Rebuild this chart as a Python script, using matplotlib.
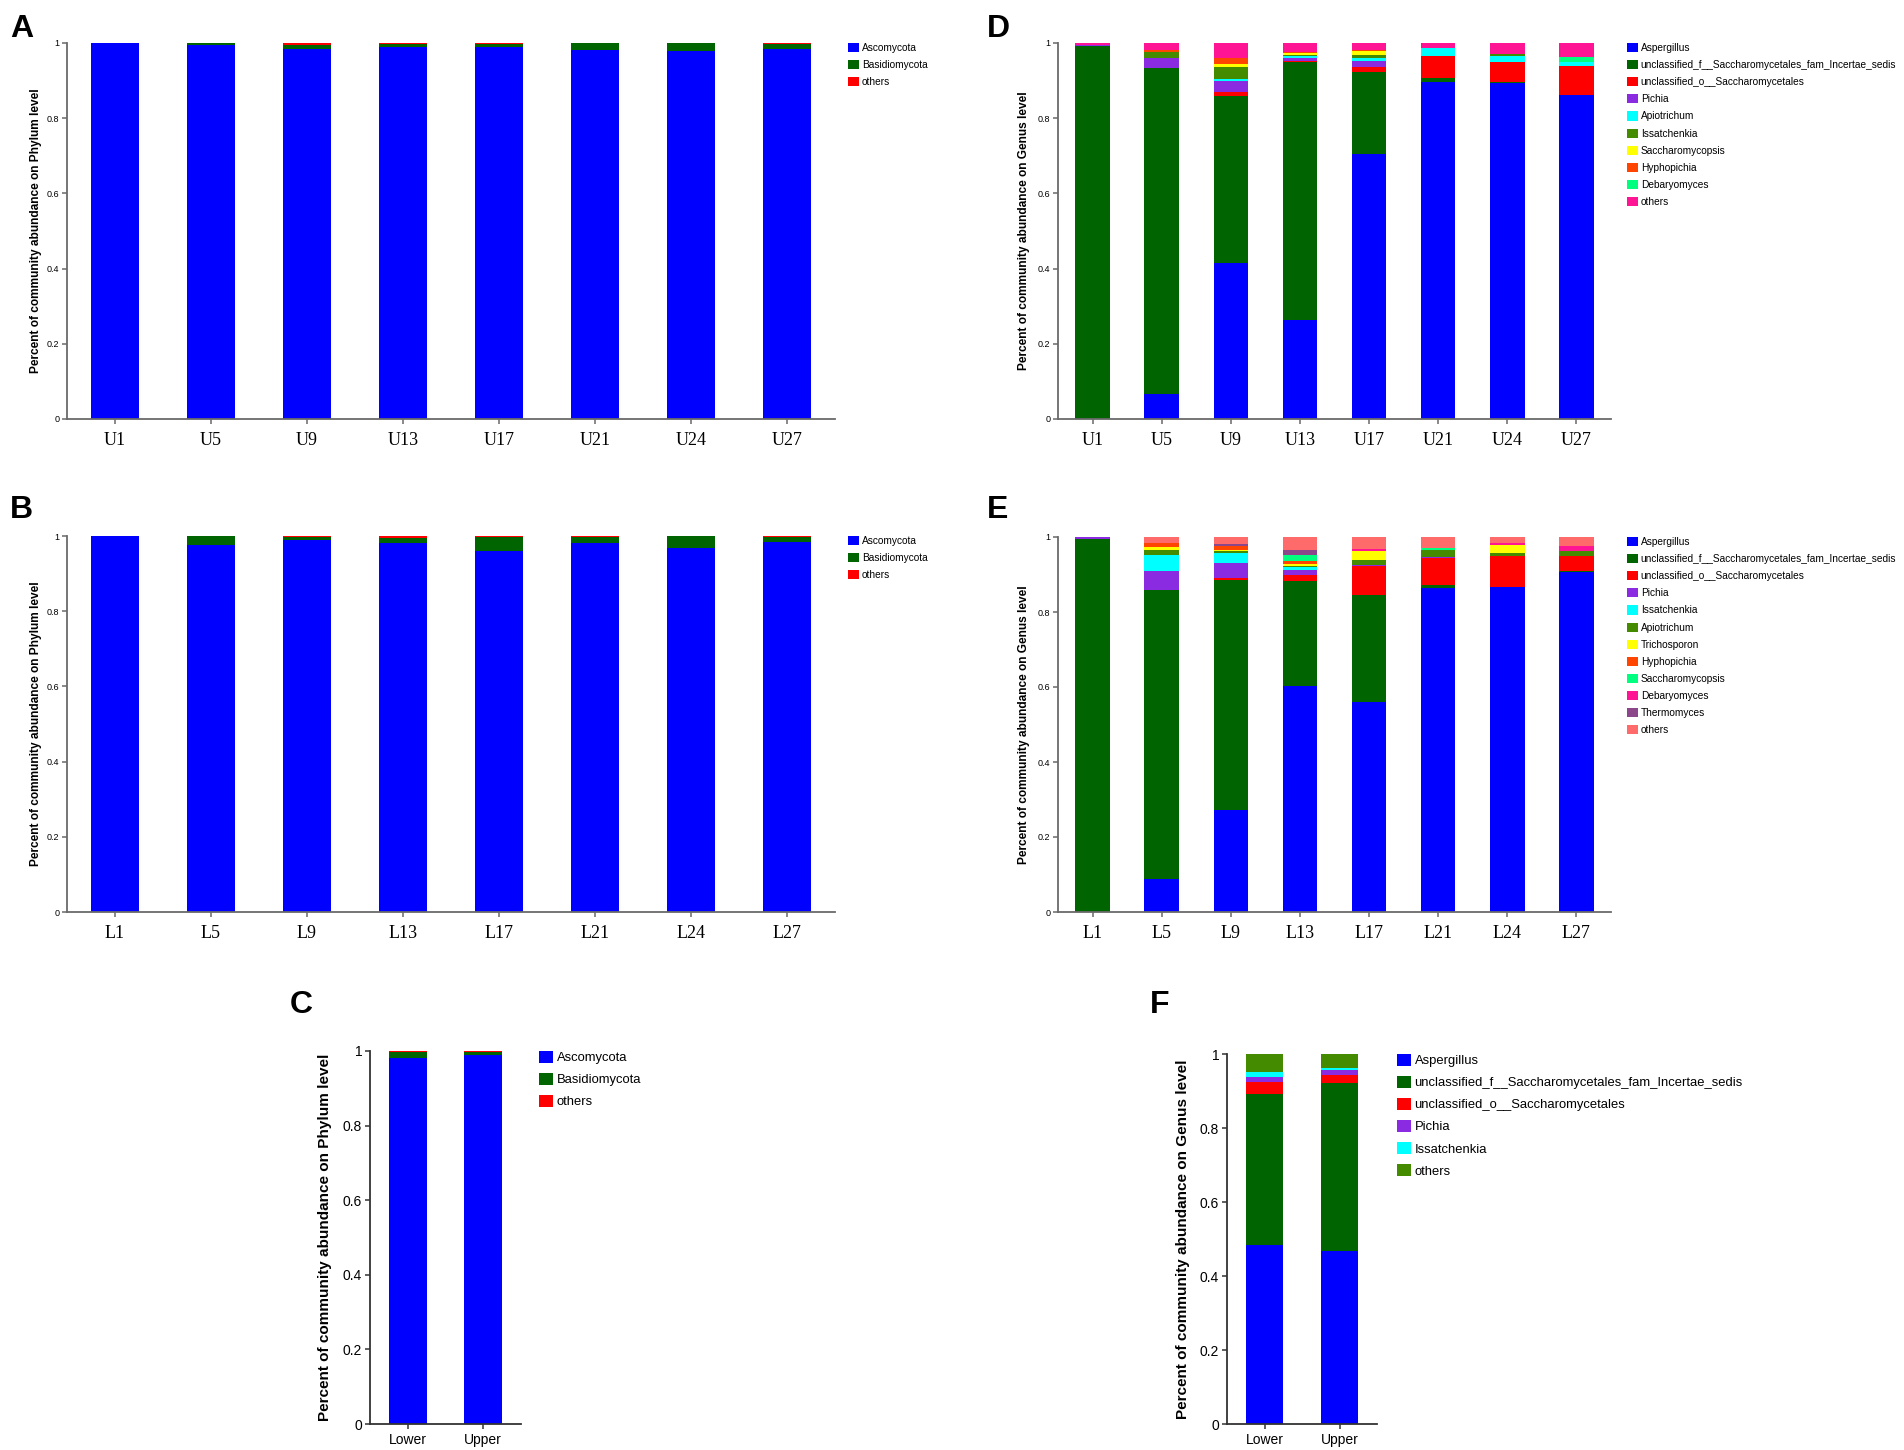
import numpy as np
import matplotlib.pyplot as plt

# ---- data -----------------------------------------------------------------
phylum_names = ["Ascomycota", "Basidiomycota", "others"]

upper_samples = ["U1", "U5", "U9", "U13", "U17", "U21", "U24", "U27"]
upper_asco = [0.999, 0.994, 0.985, 0.989, 0.990, 0.982, 0.979, 0.983]
upper_basidio = [0.000, 0.005, 0.011, 0.009, 0.007, 0.017, 0.020, 0.015]
upper_phy_others = [0.001, 0.001, 0.004, 0.002, 0.003, 0.001, 0.001, 0.002]

lower_samples = ["L1", "L5", "L9", "L13", "L17", "L21", "L24", "L27"]
lower_asco = [0.999, 0.976, 0.989, 0.982, 0.960, 0.981, 0.969, 0.983]
lower_basidio = [0.000, 0.023, 0.008, 0.013, 0.038, 0.017, 0.030, 0.015]
lower_phy_others = [0.001, 0.001, 0.003, 0.005, 0.002, 0.002, 0.001, 0.002]

group_samples = ["Lower", "Upper"]
group_asco = [0.981, 0.990]
group_basidio = [0.017, 0.008]
group_phy_others = [0.002, 0.002]

genus_u_names = ["Aspergillus", "unclassified_f__Saccharomycetales_fam_Incertae_sedis",
                 "unclassified_o__Saccharomycetales", "Pichia", "Apiotrichum", "Issatchenkia",
                 "Saccharomycopsis", "Hyphopichia", "Debaryomyces", "others"]
u_aspergillus = [0.001, 0.066, 0.415, 0.264, 0.705, 0.897, 0.894, 0.861]
u_unc_f = [0.992, 0.867, 0.444, 0.686, 0.219, 0.009, 0.002, 0.001]
u_unc_o = [0.000, 0.000, 0.010, 0.003, 0.011, 0.060, 0.054, 0.078]
u_pichia = [0.003, 0.026, 0.031, 0.007, 0.018, 0.000, 0.000, 0.000]
u_apiotrichum = [0.000, 0.000, 0.004, 0.006, 0.007, 0.020, 0.016, 0.009]
u_issatchenkia = [0.000, 0.018, 0.031, 0.002, 0.007, 0.000, 0.004, 0.000]
u_saccharomycopsis = [0.000, 0.000, 0.008, 0.006, 0.012, 0.000, 0.000, 0.000]
u_hyphopichia = [0.000, 0.004, 0.016, 0.002, 0.002, 0.000, 0.000, 0.000]
u_debaryomyces = [0.000, 0.000, 0.000, 0.001, 0.000, 0.000, 0.000, 0.014]
u_others = [0.004, 0.019, 0.041, 0.023, 0.019, 0.014, 0.030, 0.037]

genus_l_names = ["Aspergillus", "unclassified_f__Saccharomycetales_fam_Incertae_sedis",
                 "unclassified_o__Saccharomycetales", "Pichia", "Issatchenkia", "Apiotrichum",
                 "Trichosporon", "Hyphopichia", "Saccharomycopsis", "Debaryomyces",
                 "Thermomyces", "others"]
l_aspergillus = [0.001, 0.087, 0.271, 0.602, 0.559, 0.864, 0.867, 0.908]
l_unc_f = [0.994, 0.772, 0.614, 0.282, 0.287, 0.007, 0.001, 0.001]
l_unc_o = [0.000, 0.000, 0.005, 0.016, 0.076, 0.073, 0.081, 0.040]
l_pichia = [0.004, 0.050, 0.040, 0.013, 0.003, 0.002, 0.000, 0.000]
l_issatchenkia = [0.000, 0.044, 0.028, 0.007, 0.000, 0.002, 0.000, 0.000]
l_apiotrichum = [0.000, 0.012, 0.004, 0.004, 0.014, 0.017, 0.009, 0.014]
l_trichosporon = [0.000, 0.009, 0.004, 0.005, 0.025, 0.000, 0.020, 0.000]
l_hyphopichia = [0.000, 0.010, 0.009, 0.007, 0.000, 0.000, 0.000, 0.000]
l_saccharomycopsis = [0.000, 0.000, 0.002, 0.016, 0.000, 0.005, 0.000, 0.000]
l_debaryomyces = [0.000, 0.000, 0.000, 0.000, 0.005, 0.000, 0.006, 0.014]
l_thermomyces = [0.000, 0.000, 0.004, 0.014, 0.000, 0.000, 0.000, 0.000]
l_others = [0.001, 0.016, 0.019, 0.034, 0.031, 0.030, 0.016, 0.023]

genus_g_names = ["Aspergillus", "unclassified_f__Saccharomycetales_fam_Incertae_sedis",
                 "unclassified_o__Saccharomycetales", "Pichia", "Issatchenkia", "others"]
g_aspergillus = [0.484, 0.468]
g_unc_f = [0.407, 0.453]
g_unc_o = [0.033, 0.023]
g_pichia = [0.015, 0.014]
g_issatchenkia = [0.012, 0.005]
g_others = [0.049, 0.037]

# colours are handed out by legend position
PALETTE = ["#0000FF", "#006400", "#FF0000", "#8A2BE2", "#00FFFF", "#458B00",
           "#FFFF00", "#FF4500", "#00FF7F", "#FF1493", "#8B4789", "#FF6A6A"]

W, H = 1904, 1450
fig = plt.figure(figsize=(W / 100, H / 100), dpi=100)

BIG = dict(xfont="Liberation Serif", xsize=13, ysize=6.5, labsize=8.6, legsize=7.3,
           spine="#6a6a6a", xpad=5.5, leg_spacing=0.70, handle=(1.05, 1.0))
SMALL = dict(xfont="Liberation Sans", xsize=10, ysize=10, labsize=11, legsize=9.4,
             spine="#333333", xpad=3, leg_spacing=0.67, handle=(1.05, 1.0))


def px_axes(left, top, right, bottom):
    return fig.add_axes([left / W, 1 - bottom / H, (right - left) / W, (bottom - top) / H])


def stacked_panel(ax, samples, series, names, ylabel, style, label_x, legend_xy):
    x = np.arange(len(samples))
    bottom = np.zeros(len(samples))
    for i, vals in enumerate(series):
        vals = np.asarray(vals)
        ax.bar(x, vals, 0.5, bottom=bottom, color=PALETTE[i], label=names[i], linewidth=0)
        bottom += vals
    ax.set_xlim(-0.5, len(samples) - 0.5)
    ax.set_ylim(0, 1)
    ax.set_xticks(x)
    ax.set_xticklabels(samples, family=style["xfont"], fontsize=style["xsize"])
    ax.set_yticks([0, 0.2, 0.4, 0.6, 0.8, 1])
    ax.set_yticklabels(["0", "0.2", "0.4", "0.6", "0.8", "1"],
                       family="Liberation Sans", fontsize=style["ysize"])
    for side in ("top", "right"):
        ax.spines[side].set_visible(False)
    for side in ("left", "bottom"):
        ax.spines[side].set_color(style["spine"])
        ax.spines[side].set_linewidth(1.3)
    ax.tick_params(axis="x", length=3.6, width=1.1, color=style["spine"], pad=style["xpad"])
    ax.tick_params(axis="y", length=3.6, width=1.1, color=style["spine"], pad=2)
    ax.set_ylabel(ylabel, family="Liberation Sans", fontweight="bold", fontsize=style["labsize"])
    ax.yaxis.set_label_coords(label_x, 0.5)
    ax.legend(loc="upper left", bbox_to_anchor=legend_xy, frameon=False,
              prop={"family": "Liberation Sans", "size": style["legsize"]},
              handlelength=style["handle"][0], handleheight=style["handle"][1],
              handletextpad=0.3, labelspacing=style["leg_spacing"],
              borderaxespad=0, borderpad=0)


phylum_label = "Percent of community abundance on Phylum level"
genus_label = "Percent of community abundance on Genus level"

ax_a = px_axes(67, 43, 835, 419)
stacked_panel(ax_a, upper_samples, [upper_asco, upper_basidio, upper_phy_others],
              phylum_names, phylum_label, BIG, -0.032, (1.017, 1.0))

ax_b = px_axes(67, 536, 835, 912)
stacked_panel(ax_b, lower_samples, [lower_asco, lower_basidio, lower_phy_others],
              phylum_names, phylum_label, BIG, -0.032, (1.017, 1.0))

ax_c = px_axes(370, 1051, 521, 1424)
stacked_panel(ax_c, group_samples, [group_asco, group_basidio, group_phy_others],
              phylum_names, phylum_label, SMALL, -0.25, (1.12, 1.0))

ax_d = px_axes(1058, 43, 1611, 419)
stacked_panel(ax_d, upper_samples,
              [u_aspergillus, u_unc_f, u_unc_o, u_pichia, u_apiotrichum, u_issatchenkia,
               u_saccharomycopsis, u_hyphopichia, u_debaryomyces, u_others],
              genus_u_names, genus_label, BIG, -0.051, (1.029, 1.0))

ax_e = px_axes(1058, 537, 1611, 912)
stacked_panel(ax_e, lower_samples,
              [l_aspergillus, l_unc_f, l_unc_o, l_pichia, l_issatchenkia, l_apiotrichum,
               l_trichosporon, l_hyphopichia, l_saccharomycopsis, l_debaryomyces,
               l_thermomyces, l_others],
              genus_l_names, genus_label, BIG, -0.051, (1.029, 1.0))

ax_f = px_axes(1227, 1054, 1377, 1424)
stacked_panel(ax_f, group_samples,
              [g_aspergillus, g_unc_f, g_unc_o, g_pichia, g_issatchenkia, g_others],
              genus_g_names, genus_label, SMALL, -0.247, (1.133, 1.0))

# panel letters
for letter, lx, ly in [("A", 10, 37), ("B", 10, 518), ("C", 290, 1013),
                       ("D", 987, 37), ("E", 987, 518), ("F", 1150, 1013)]:
    fig.text(lx / W, 1 - ly / H, letter, family="Liberation Sans", fontweight="bold",
             fontsize=23, ha="left", va="baseline")

fig.savefig("out.png", dpi=100)
